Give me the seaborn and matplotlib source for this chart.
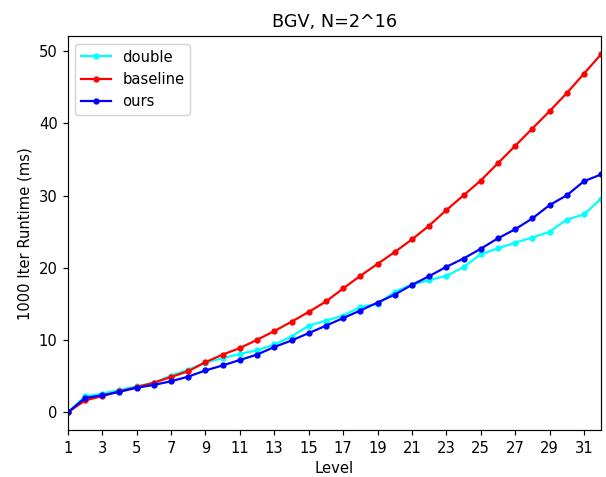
import matplotlib
matplotlib.use("Agg")
import matplotlib.pyplot as plt
import seaborn as sns
import pandas as pd

levels = list(range(1, 33))
double = [0.0, 2.2, 2.6, 3.1, 3.6, 4.1, 5.1, 5.9, 6.9, 7.5, 8.1, 8.6,
          9.4, 10.5, 12.0, 12.7, 13.4, 14.6, 15.0, 16.7, 17.7, 18.3,
          18.9, 20.1, 21.9, 22.7, 23.5, 24.2, 25.0, 26.7, 27.4, 29.6]
baseline = [0.0, 1.65, 2.25, 2.9, 3.5, 4.1, 4.9, 5.7, 6.95, 8.0, 8.9, 10.05,
            11.25, 12.55, 13.9, 15.35, 17.15, 18.9, 20.55, 22.2, 23.95, 25.85,
            28.0, 30.05, 32.1, 34.5, 36.9, 39.3, 41.7, 44.2, 46.9, 49.6]
ours = [0.0, 2.0, 2.35, 2.85, 3.4, 3.8, 4.3, 4.95, 5.8, 6.5, 7.25, 8.0,
        9.05, 9.95, 10.97, 12.0, 13.05, 14.1, 15.2, 16.3, 17.65, 18.85,
        20.15, 21.3, 22.65, 24.1, 25.35, 26.85, 28.7, 30.05, 32.0, 32.95]

series = {"double": (double, "cyan"), "baseline": (baseline, "red"), "ours": (ours, "blue")}
xticks = list(range(1, 33, 2))

DPI = 106
fig, ax = plt.subplots(figsize=(606 / DPI, 477 / DPI), dpi=DPI)
fig.subplots_adjust(left=0.112, right=0.992, bottom=0.098, top=0.924)

for name, (vals, col) in series.items():
    df = pd.DataFrame({"Level": levels, "val": vals})
    sns.lineplot(data=df, x="Level", y="val", ax=ax, color=col, marker=".",
                 markersize=6.5, markeredgecolor=col, markeredgewidth=1,
                 linewidth=1.5, label=name)

ax.set_xlim(1, 32)
ax.set_xticks(xticks)
ax.set_xlabel("Level")
ax.set_ylabel("1000 Iter Runtime (ms)")
ax.set_title("BGV, N=2^16")
ax.legend(loc="upper left")
fig.savefig("out.png", dpi=DPI)
